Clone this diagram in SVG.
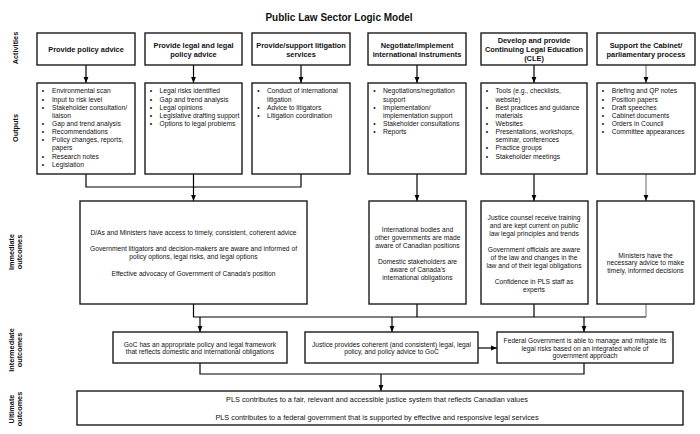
<svg xmlns="http://www.w3.org/2000/svg" width="700" height="434" viewBox="0 0 700 434">
<style>
text{font-family:"Liberation Sans",Arial,sans-serif;fill:#111}
.title{font-size:10px;font-weight:bold;text-anchor:middle}
.box{fill:#fff;stroke:#1a1a1a;stroke-width:1.4}
.h{font-size:7.4px;font-weight:bold;text-anchor:middle}
.t{font-size:6.7px}
.m{text-anchor:middle}
.u{font-size:7.3px;text-anchor:middle}
.lbl{font-size:7.3px;font-weight:bold;text-anchor:middle}
.cn{fill:none;stroke:#000;stroke-width:1.2}
.gr{stroke:#666;stroke-width:1}
</style>
<defs>
<marker id="ah" viewBox="0 0 10 10" refX="10" refY="5" markerWidth="6" markerHeight="6" markerUnits="userSpaceOnUse" orient="auto">
<path d="M0,1 L10,5 L0,9 z" fill="#000"/>
</marker>
</defs>
<rect width="700" height="434" fill="#fff"/>
<text class="title" x="339" y="21">Public Law Sector Logic Model</text>

<g id="row-labels">
<text class="lbl" transform="translate(15,48) rotate(-90)" y="2.6">Activities</text>
<text class="lbl" transform="translate(15,128) rotate(-90)" y="2.6">Outputs</text>
<text class="lbl" transform="translate(15,252) rotate(-90)"><tspan x="0" y="-1.4">Immediate</tspan><tspan x="0" y="6.6">outcomes</tspan></text>
<text class="lbl" transform="translate(15,350) rotate(-90)"><tspan x="0" y="-1.4">Intermediate</tspan><tspan x="0" y="6.6">outcomes</tspan></text>
<text class="lbl" transform="translate(15,409) rotate(-90)"><tspan x="0" y="-1.4">Ultimate</tspan><tspan x="0" y="6.6">outcomes</tspan></text>
</g>

<g id="connectors">
<path class="cn ar" marker-end="url(#ah)" d="M86,65 V83"/>
<path class="cn" marker-end="url(#ah)" d="M193.5,65 V83"/>
<path class="cn" marker-end="url(#ah)" d="M301,65 V83"/>
<path class="cn" marker-end="url(#ah)" d="M417,65 V83"/>
<path class="cn" marker-end="url(#ah)" d="M534,65 V83"/>
<path class="cn gr" marker-end="url(#ah)" d="M646,65 V83"/>
<path class="cn" d="M86,174 V187 H301 V174 M193.5,174 V187"/>
<path class="cn" marker-end="url(#ah)" d="M193.5,187 V201"/>
<path class="cn" marker-end="url(#ah)" d="M417,174 V201"/>
<path class="cn" marker-end="url(#ah)" d="M534,174 V201"/>
<path class="cn gr" marker-end="url(#ah)" d="M646,174 V201"/>
<path class="cn" d="M193.5,304 V317 H646 M417,304 V317 M534,304 V317"/>
<path class="cn gr" d="M646,304 V317"/>
<path class="cn" marker-end="url(#ah)" d="M200,317 V332"/>
<path class="cn" marker-end="url(#ah)" d="M392,317 V332"/>
<path class="cn" marker-end="url(#ah)" d="M584,317 V332"/>
<path class="cn" marker-end="url(#ah)" d="M478,348 H497"/>
<path class="cn" d="M200,363 V374 H584 V363"/>
<path class="cn" marker-end="url(#ah)" d="M381,374 V391"/>
</g>

<g id="act1"><rect class="box" x="37" y="33" width="98" height="32"/><text class="h" x="86" y="52.3">Provide policy advice</text></g>
<g id="act2"><rect class="box" x="145" y="33" width="97" height="32"/><text class="h" x="193.5" y="47.7">Provide legal and legal<tspan x="193.5" y="56.7">policy advice</tspan></text></g>
<g id="act3"><rect class="box" x="252" y="33" width="98" height="32"/><text class="h" x="301" y="47.7">Provide/support litigation<tspan x="301" y="56.7">services</tspan></text></g>
<g id="act4"><rect class="box" x="368" y="33" width="98" height="32"/><text class="h" x="417" y="47.7">Negotiate/implement<tspan x="417" y="56.7">international instruments</tspan></text></g>
<g id="act5"><rect class="box" x="481" y="33" width="106" height="32"/><text class="h" x="534" y="43.4">Develop and provide<tspan x="534" y="52.2">Continuing Legal Education</tspan><tspan x="534" y="61">(CLE)</tspan></text></g>
<g id="act6"><rect class="box" x="597" y="33" width="98" height="32"/><text class="h" x="646" y="47.7">Support the Cabinet/<tspan x="646" y="56.7">parliamentary process</tspan></text></g>

<g id="out1"><rect class="box" x="37" y="83" width="98" height="91"/>
<text class="t m"><tspan x="43" y="93.4">•</tspan><tspan x="43" y="101.5">•</tspan><tspan x="43" y="109.7">•</tspan><tspan x="43" y="126">•</tspan><tspan x="43" y="134.1">•</tspan><tspan x="43" y="142.3">•</tspan><tspan x="43" y="158.6">•</tspan><tspan x="43" y="166.7">•</tspan></text>
<text class="t"><tspan x="52" y="93.4">Environmental scan</tspan><tspan x="52" y="101.5">Input to risk level</tspan><tspan x="52" y="109.7">Stakeholder consultation/</tspan><tspan x="52" y="117.8">liaison</tspan><tspan x="52" y="126">Gap and trend analysis</tspan><tspan x="52" y="134.1">Recommendations</tspan><tspan x="52" y="142.3">Policy changes, reports,</tspan><tspan x="52" y="150.4">papers</tspan><tspan x="52" y="158.6">Research notes</tspan><tspan x="52" y="166.7">Legislation</tspan></text></g>

<g id="out2"><rect class="box" x="145" y="83" width="97" height="91"/>
<text class="t m"><tspan x="151" y="93.4">•</tspan><tspan x="151" y="101.5">•</tspan><tspan x="151" y="109.7">•</tspan><tspan x="151" y="117.8">•</tspan><tspan x="151" y="126">•</tspan></text>
<text class="t"><tspan x="159.5" y="93.4">Legal risks identified</tspan><tspan x="159.5" y="101.5">Gap and trend analysis</tspan><tspan x="159.5" y="109.7">Legal opinions</tspan><tspan x="159.5" y="117.8">Legislative drafting support</tspan><tspan x="159.5" y="126">Options to legal problems</tspan></text></g>

<g id="out3"><rect class="box" x="252" y="83" width="98" height="91"/>
<text class="t m"><tspan x="258.5" y="93.4">•</tspan><tspan x="258.5" y="109.7">•</tspan><tspan x="258.5" y="117.8">•</tspan></text>
<text class="t"><tspan x="267" y="93.4">Conduct of international</tspan><tspan x="267" y="101.5">litigation</tspan><tspan x="267" y="109.7">Advice to litigators</tspan><tspan x="267" y="117.8">Litigation coordination</tspan></text></g>

<g id="out4"><rect class="box" x="368" y="83" width="98" height="91"/>
<text class="t m"><tspan x="374.5" y="93.4">•</tspan><tspan x="374.5" y="109.7">•</tspan><tspan x="374.5" y="126">•</tspan><tspan x="374.5" y="134.1">•</tspan></text>
<text class="t"><tspan x="383" y="93.4">Negotiations/negotiation</tspan><tspan x="383" y="101.5">support</tspan><tspan x="383" y="109.7">Implementation/</tspan><tspan x="383" y="117.8">implementation support</tspan><tspan x="383" y="126">Stakeholder consultations</tspan><tspan x="383" y="134.1">Reports</tspan></text></g>

<g id="out5"><rect class="box" x="481" y="83" width="106" height="91"/>
<text class="t m"><tspan x="487" y="93.4">•</tspan><tspan x="487" y="109.7">•</tspan><tspan x="487" y="126">•</tspan><tspan x="487" y="134.1">•</tspan><tspan x="487" y="150.4">•</tspan><tspan x="487" y="158.6">•</tspan></text>
<text class="t"><tspan x="495.5" y="93.4">Tools (e.g., checklists,</tspan><tspan x="495.5" y="101.5">website)</tspan><tspan x="495.5" y="109.7">Best practices and guidance</tspan><tspan x="495.5" y="117.8">materials</tspan><tspan x="495.5" y="126">Websites</tspan><tspan x="495.5" y="134.1">Presentations, workshops,</tspan><tspan x="495.5" y="142.3">seminar, conferences</tspan><tspan x="495.5" y="150.4">Practice groups</tspan><tspan x="495.5" y="158.6">Stakeholder meetings</tspan></text></g>

<g id="out6"><rect class="box" x="597" y="83" width="98" height="91"/>
<text class="t m"><tspan x="603" y="93.4">•</tspan><tspan x="603" y="101.5">•</tspan><tspan x="603" y="109.7">•</tspan><tspan x="603" y="117.8">•</tspan><tspan x="603" y="126">•</tspan><tspan x="603" y="134.1">•</tspan></text>
<text class="t"><tspan x="611.7" y="93.4">Briefing and QP notes</tspan><tspan x="611.7" y="101.5">Position papers</tspan><tspan x="611.7" y="109.7">Draft speeches</tspan><tspan x="611.7" y="117.8">Cabinet documents</tspan><tspan x="611.7" y="126">Orders in Council</tspan><tspan x="611.7" y="134.1">Committee appearances</tspan></text></g>

<g id="imm1"><rect class="box" x="80" y="201" width="227" height="103"/>
<text class="t m"><tspan x="193.5" y="234.6">D/As and Ministers have access to timely, consistent, coherent advice</tspan><tspan x="193.5" y="251.3">Government litigators and decision-makers are aware and informed of</tspan><tspan x="193.5" y="259.3">policy options, legal risks, and legal options</tspan><tspan x="193.5" y="275.6">Effective advocacy of Government of Canada's position</tspan></text></g>

<g id="imm2"><rect class="box" x="369" y="201" width="97" height="103"/>
<text class="t m"><tspan x="417.5" y="231.6">International bodies and</tspan><tspan x="417.5" y="240">other governments are made</tspan><tspan x="417.5" y="248.3">aware of Canadian positions</tspan><tspan x="417.5" y="264">Domestic stakeholders are</tspan><tspan x="417.5" y="272.3">aware of Canada's</tspan><tspan x="417.5" y="280">international obligations</tspan></text></g>

<g id="imm3"><rect class="box" x="481" y="201" width="107" height="103"/>
<text class="t m"><tspan x="534" y="220">Justice counsel receive training</tspan><tspan x="534" y="227.6">and are kept current on public</tspan><tspan x="534" y="235.6">law legal principles and trends</tspan><tspan x="534" y="251.6">Government officials are aware</tspan><tspan x="534" y="259.6">of the law and changes in the</tspan><tspan x="534" y="267.6">law and of their legal obligations</tspan><tspan x="534" y="284">Confidence in PLS staff as</tspan><tspan x="534" y="291.6">experts</tspan></text></g>

<g id="imm4"><rect class="box" x="597" y="201" width="97" height="103"/>
<text class="t m"><tspan x="645.5" y="257.6">Ministers have the</tspan><tspan x="645.5" y="265.3">necessary advice to make</tspan><tspan x="645.5" y="273.3">timely, informed decisions</tspan></text></g>

<g id="int1"><rect class="box" x="113" y="332" width="174" height="31"/>
<text class="t m"><tspan x="200" y="346.6">GoC has an appropriate policy and legal framework</tspan><tspan x="200" y="354">that reflects domestic and international obligations</tspan></text></g>

<g id="int2"><rect class="box" x="305" y="332" width="173" height="31"/>
<text class="t m"><tspan x="391.5" y="346.6">Justice provides coherent (and consistent) legal, legal</tspan><tspan x="391.5" y="354">policy, and policy advice to GoC</tspan></text></g>

<g id="int3"><rect class="box" x="497" y="332" width="176" height="31"/>
<text class="t m"><tspan x="585" y="343">Federal Government is able to manage and mitigate its</tspan><tspan x="585" y="350.6">legal risks based on an integrated whole of</tspan><tspan x="585" y="358.3">government approach</tspan></text></g>

<g id="ult"><rect class="box" x="77" y="391" width="606" height="34"/>
<text class="u"><tspan x="377" y="401.5">PLS contributes to a fair, relevant and accessible justice system that reflects Canadian values</tspan><tspan x="377" y="420.2">PLS contributes to a federal government that is supported by effective and responsive legal services</tspan></text></g>
</svg>
